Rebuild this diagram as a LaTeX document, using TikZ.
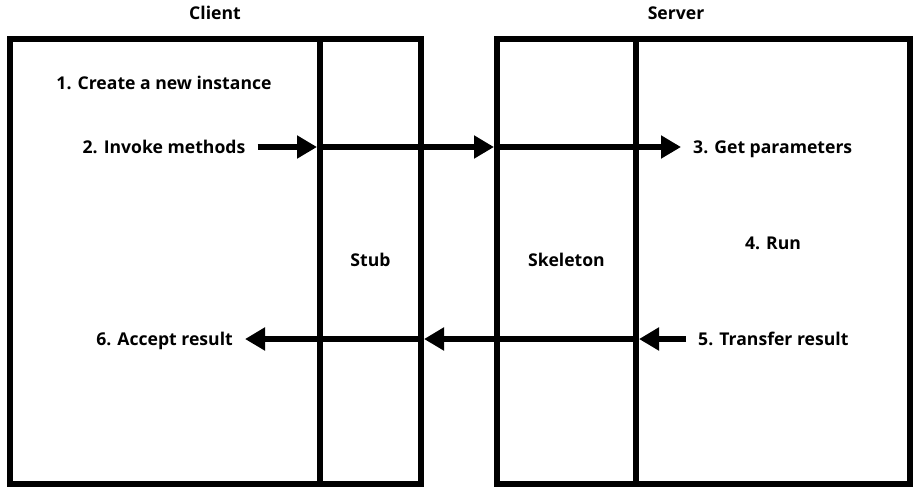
\documentclass[tikz,border=0pt]{standalone}
\usepackage{fontspec}
\setmainfont{Open Sans}
\usetikzlibrary{arrows.meta}
\begin{document}
\begin{tikzpicture}[x=1pt,y=-1pt,>={Triangle[length=20pt,width=22pt]},line join=miter,font=\bfseries\fontsize{17.6}{19}\selectfont,
		every node/.style={text height=16pt,text depth=3pt}]
		\tikzset{part/.style={draw,line width=6pt,rectangle,inner sep=0pt,outer sep=0pt,anchor=north west,minimum height=445pt},
			step label/.style={inner xsep=12pt},
			flow/.style={->,line width=6pt}}
		\useasboundingbox (0,0) rectangle (918,491);
		% the two sides
		\node[part,minimum width=310pt] (client) at (10,38.5) {};
		\node[part,minimum width=101pt] (stub) at (320,38.5) {};
		\node[part,minimum width=139pt] (skeleton) at (497,38.5) {};
		\node[part,minimum width=274pt] (server) at (636,38.5) {};
		\node (clientname) at (215,13) {Client};
		\node (servername) at (676,13) {Server};
		\node (stubname) at ([yshift=1pt]stub.center) {Stub};
		\node (skeletonname) at ([yshift=1pt]skeleton.center) {Skeleton};
		% steps
		\node (create) at (164,83) {1. Create a new instance};
		\node[step label] (invoke) at (164,147) {2. Invoke methods};
		\node[step label,anchor=west] (params) at (681,147) {3. Get parameters};
		\node (run) at (773,243) {4. Run};
		\node[step label,anchor=west] (transfer) at (686,339) {5. Transfer result};
		\node[step label,anchor=east] (accept) at (245,339) {6. Accept result};
		\coordinate (callA) at ([xshift=-3pt]stub.west |- invoke);
		\coordinate (callB) at ([xshift=-3pt]skeleton.west |- invoke);
		\coordinate (backA) at ([xshift=3pt]server.west |- transfer);
		\coordinate (backB) at ([xshift=3pt]stub.east |- transfer);
		\draw[flow] (invoke.east) -- (callA);
		\draw[flow] (callA) -- (callB);
		\draw[flow] (callB) -- (params.west);
		\draw[flow] (transfer.west) -- (backA);
		\draw[flow] (backA) -- (backB);
		\draw[flow] (backB) -- (accept.east);
\end{tikzpicture}
\end{document}
